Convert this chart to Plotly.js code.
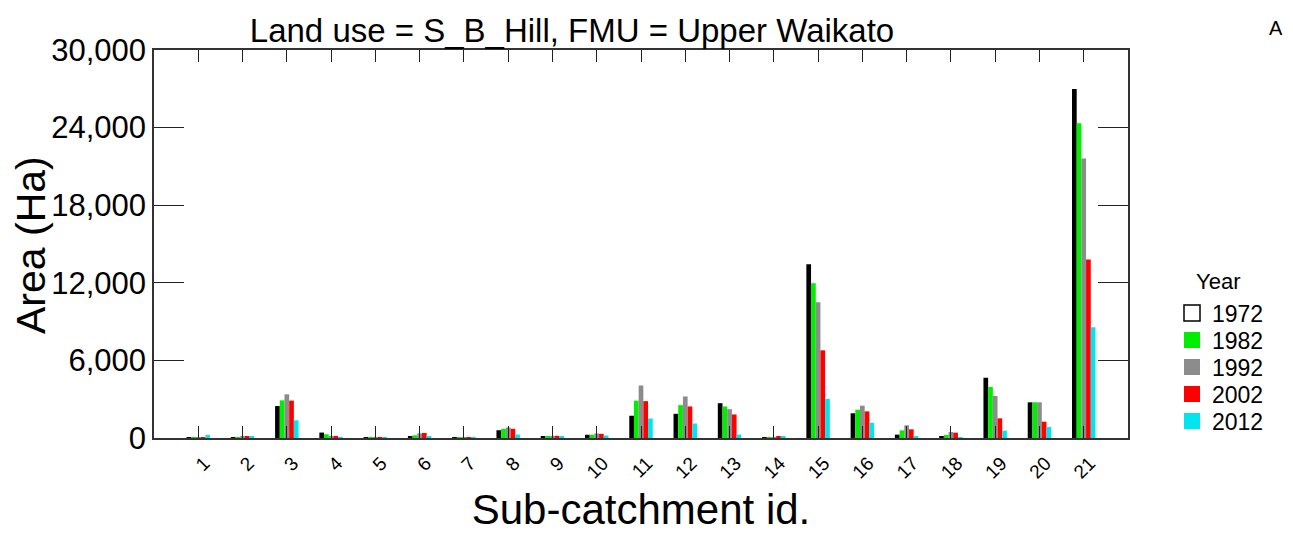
<!DOCTYPE html>
<html>
<head>
<meta charset="utf-8">
<script src="https://cdn.plot.ly/plotly-3.0.1.min.js"></script>
<style>html,body{margin:0;padding:0;background:#fff;}#chart{width:1293px;height:533px;}</style>
</head>
<body>
<div id="chart"></div>
<script>
// Sub-catchment ids
const catchments = [1,2,3,4,5,6,7,8,9,10,11,12,13,14,15,16,17,18,19,20,21];
const years = ['1972','1982','1992','2002','2012'];
// Area (Ha) per year
const area1972 = [30,40,2470,420,40,110,50,600,120,250,1720,1870,2690,60,13430,1910,260,80,4660,2760,26980];
const area1982 = [60,60,2910,290,50,210,50,710,120,250,2880,2540,2440,60,11960,2190,590,230,3940,2760,24330];
const area1992 = [60,80,3380,150,50,360,60,810,170,350,4060,3210,2230,60,10490,2500,980,460,3250,2760,21620];
const area2002 = [60,130,2890,100,50,390,60,710,170,320,2850,2440,1820,90,6780,2060,670,410,1520,1260,13810];
const area2012 = [230,80,1370,70,50,120,60,270,120,190,1510,1120,270,90,3020,1180,80,60,570,850,8560];
const yTicks = [0,6000,12000,18000,24000,30000];

const series = [area1972, area1982, area1992, area2002, area2012];
const colors = ['#000000','#00EE00','#8C8C8C','#FF0000','#00E5EE'];
const font = 'Liberation Sans, Arial, sans-serif';

const W = 1293, H = 533, L = 154, R = 165, T = 50, B = 95;
const pw = W - L - R, ph = H - T - B;
const px2x = v => (v - L) / pw;
const px2y = v => (H - B - v) / ph;

const traces = [];
series.forEach((vals, i) => {
  traces.push({
    type: 'bar', x: catchments, y: vals, name: years[i],
    marker: {color: colors[i], line: {width: 0}},
    showlegend: false, hoverinfo: 'x+y+name'
  });
});
// legend entries: one legend per year for exact spacing
const legendIds = ['legend','legend2','legend3','legend4','legend5'];
years.forEach((yr, i) => {
  traces.push({
    type: 'scatter', mode: 'markers', x: [null], y: [null], name: yr,
    legend: legendIds[i],
    marker: {symbol: 'square', size: 16,
      color: i === 0 ? '#FFFFFF' : colors[i],
      line: {color: i === 0 ? '#000000' : colors[i], width: i === 0 ? 1.5 : 0}},
    showlegend: true
  });
});

const layout = {
  width: W, height: H,
  margin: {l: L, r: R, t: T, b: B},
  paper_bgcolor: '#FFFFFF', plot_bgcolor: '#FFFFFF',
  font: {family: font, color: '#000000'},
  barmode: 'group', bargap: 0.47, bargroupgap: 0,
  title: {text: 'Land use = S_B_Hill, FMU = Upper Waikato', font: {family: font, size: 33, color: '#000'},
    xref: 'paper', x: px2x(572), xanchor: 'center', yref: 'container', y: 0.942, yanchor: 'middle'},
  xaxis: {
    range: [0, 22], tickmode: 'array', tickvals: catchments, ticktext: catchments.map(String),
    tickangle: -45, tickfont: {size: 19, family: font}, ticks: 'inside', ticklen: 12, tickwidth: 1.2, tickcolor: '#222',
    ticklabelshift: 6, ticklabelstandoff: 5,
    showline: true, linecolor: '#333', linewidth: 1.5, mirror: 'ticks', showgrid: false, zeroline: false,
    title: {text: 'Sub-catchment id.', font: {size: 42, family: font}, standoff: 20}
  },
  yaxis: {
    range: [0, 30000], tickmode: 'array', tickvals: yTicks, tickformat: ',d',
    tickfont: {size: 31, family: font}, ticks: 'inside', ticklen: 30, tickwidth: 1.2, tickcolor: '#222',
    showline: true, linecolor: '#333', linewidth: 1.5, mirror: 'ticks', showgrid: false, zeroline: false
  },
  annotations: [
    {text: 'Area (Ha)', xref: 'paper', yref: 'paper', x: px2x(31), y: px2y(245), textangle: -90,
     xanchor: 'center', yanchor: 'middle', showarrow: false, font: {size: 41, family: font}},
    {text: 'A', xref: 'paper', yref: 'paper', x: px2x(1276), y: px2y(28),
     xanchor: 'center', yanchor: 'middle', showarrow: false, font: {size: 20, family: font}},
    {text: 'Year', xref: 'paper', yref: 'paper', x: px2x(1194), y: px2y(281),
     xanchor: 'left', yanchor: 'middle', showarrow: false, font: {size: 22, family: font}}
  ]
};
const itemCenters = [313, 340, 367, 394, 421];
legendIds.forEach((id, i) => {
  layout[id] = {
    x: px2x(1172), xanchor: 'left', y: px2y(itemCenters[i]), yanchor: 'middle',
    font: {size: 23, family: font}, itemwidth: 30, bgcolor: 'rgba(0,0,0,0)', borderwidth: 0
  };
});

Plotly.newPlot('chart', traces, layout, {displayModeBar: false, responsive: false});
</script>
</body>
</html>
